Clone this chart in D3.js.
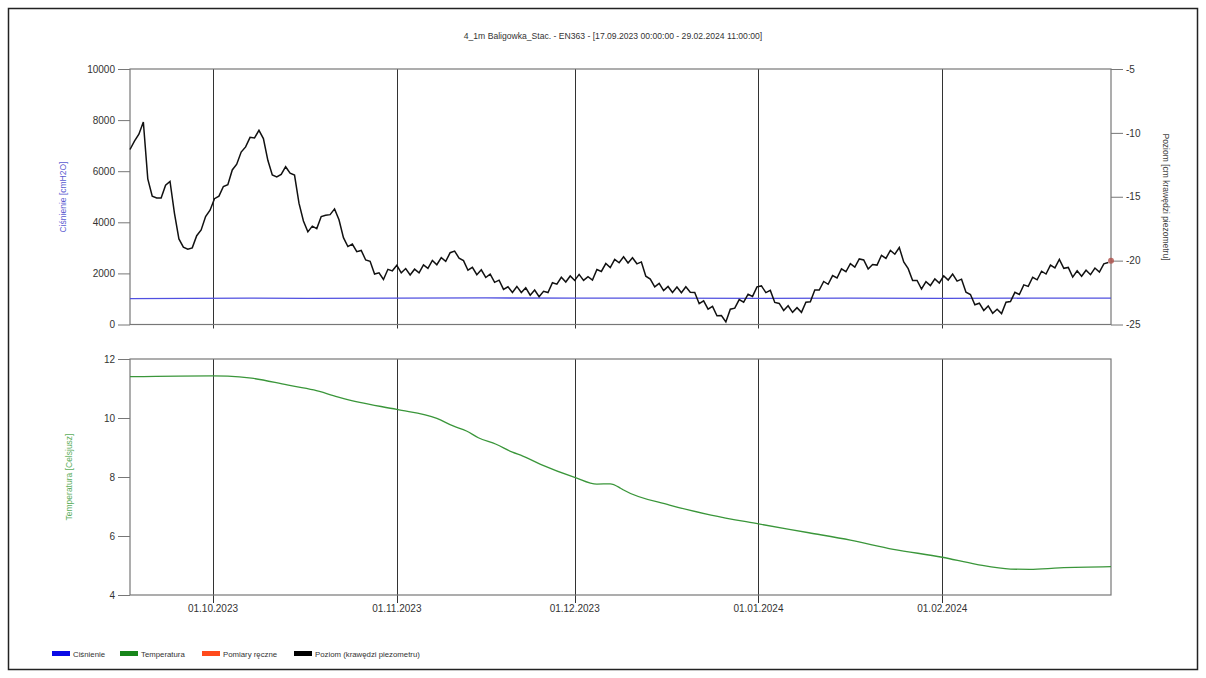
<!DOCTYPE html>
<html><head><meta charset="utf-8">
<script src="https://cdn.jsdelivr.net/npm/d3@7"></script>
<style>
html,body{margin:0;padding:0;background:#fff;}
svg{display:block;font-family:"Liberation Sans",Arial,sans-serif;}
</style></head>
<body><svg id="c" width="1206" height="678"></svg>
<script>
// ---------- DATA ----------
const titleText = "4_1m Baligowka_Stac. - EN363 -  [17.09.2023 00:00:00 - 29.02.2024 11:00:00]";
const timeStart = "2023-09-17 00:00";
const timeEnd = "2024-02-29 11:00";
const dateTickLabels = ["2023-10-01 00:00","2023-11-01 00:00","2023-12-01 00:00","2024-01-01 00:00","2024-02-01 00:00"];
const pressureTicks = [0,2000,4000,6000,8000,10000];
const levelTicks = [-5,-10,-15,-20,-25];
const tempTicks = [4,6,8,10,12];

// Poziom (krawędzi piezometru) [cm] - readings every 18 hours from 17.09.2023 00:00
const levelStepHours = 18;
const levelValues = [
-11.3,-10.65,-10.1,-9.15,-13.6,-14.95,-15.1,-15.1,-14.1,-13.8,
-16.3,-18.3,-18.95,-19.1,-19.0,-18.05,-17.6,-16.55,-16.05,-15.15,
-14.95,-14.2,-14.05,-12.9,-12.45,-11.5,-11.1,-10.35,-10.4,-9.8,
-10.45,-12.15,-13.3,-13.45,-13.25,-12.65,-13.15,-13.3,-15.5,-16.9,
-17.75,-17.3,-17.49,-16.55,-16.45,-16.4,-15.95,-16.8,-18.2,-18.9,
-18.7,-19.3,-19.2,-19.95,-20.05,-21.05,-20.95,-21.48,-20.68,-20.8,
-20.37,-20.95,-20.62,-21.12,-20.67,-20.95,-20.33,-20.6,-19.99,-20.32,
-19.77,-20.05,-19.38,-19.25,-19.8,-20.0,-20.75,-20.53,-21.1,-20.72,
-21.32,-21.05,-21.7,-21.53,-22.25,-22.05,-22.49,-22.02,-22.5,-22.13,
-22.7,-22.3,-22.82,-22.4,-22.5,-21.73,-21.84,-21.3,-21.67,-21.2,
-21.55,-21.08,-21.55,-21.25,-21.52,-20.7,-20.85,-20.23,-20.55,-19.9,
-20.17,-19.7,-20.18,-19.78,-20.25,-20.1,-21.22,-21.45,-22.05,-21.78,
-22.35,-22.02,-22.49,-22.07,-22.52,-22.05,-22.47,-22.5,-23.37,-23.15,
-23.8,-23.58,-24.32,-24.3,-24.8,-23.8,-23.72,-23.05,-23.25,-22.63,
-22.8,-22.05,-21.98,-22.5,-22.33,-23.27,-23.35,-23.9,-23.53,-24.05,
-23.68,-24.05,-23.25,-23.22,-22.3,-22.3,-21.63,-21.85,-21.17,-21.36,
-20.65,-20.87,-20.23,-20.5,-19.87,-19.95,-20.65,-20.3,-20.35,-19.58,
-19.82,-19.2,-19.5,-18.97,-20.1,-20.63,-21.55,-21.55,-22.22,-21.65,
-21.95,-21.43,-21.75,-21.2,-21.52,-21.05,-21.6,-21.45,-22.47,-22.65,
-23.45,-23.33,-23.9,-23.55,-24.12,-23.8,-24.15,-23.25,-23.2,-22.48,
-22.65,-21.9,-22.02,-21.3,-21.5,-20.83,-21.05,-20.35,-20.57,-19.9,
-20.6,-20.53,-21.29,-20.8,-21.22,-20.75,-21.1,-20.58,-20.9,-20.25,
-20.15
];

// Ciśnienie [cmH2O]
const pressureDates = ["2023-09-17 00:00","2023-09-27 00:00","2023-10-07 00:00","2023-10-17 00:00","2023-11-01 00:00","2023-11-16 00:00","2023-12-01 00:00","2023-12-16 00:00","2024-01-01 00:00","2024-01-16 00:00","2024-02-01 00:00","2024-02-16 00:00","2024-02-29 11:00"];
const pressureValues = [1010,1020,1030,1025,1030,1040,1030,1035,1020,1030,1020,1030,1030];

// Temperatura [Celsjusz]
const tempDates = ["2023-09-17 00:00","2023-10-01 00:00","2023-10-03 12:00","2023-10-07 12:00","2023-10-13 12:00","2023-10-18 00:00","2023-10-22 00:00","2023-10-25 18:00","2023-11-01 00:00","2023-11-07 18:00","2023-11-10 12:00","2023-11-12 18:00","2023-11-14 18:00","2023-11-17 18:00","2023-11-20 12:00","2023-11-22 06:00","2023-11-25 06:00","2023-12-01 00:00","2023-12-04 18:00","2023-12-07 00:00","2023-12-08 18:00","2023-12-09 06:00","2023-12-17 00:00","2023-12-24 00:00","2024-01-01 00:00","2024-01-09 12:00","2024-01-16 12:00","2024-01-23 18:00","2024-02-01 00:00","2024-02-06 18:00","2024-02-12 12:00","2024-02-15 18:00","2024-02-20 18:00","2024-02-29 11:00"];
const tempValues = [11.40,11.43,11.42,11.35,11.12,10.95,10.72,10.53,10.29,9.99,9.73,9.56,9.33,9.11,8.84,8.71,8.43,7.99,7.76,7.77,7.62,7.56,7.05,6.71,6.41,6.11,5.86,5.55,5.28,5.04,4.88,4.87,4.92,4.96];

// Pomiary ręczne
const manualDates = ["2024-02-29 11:00"];
const manualValues = [-20.0];

const legendLabels = ["Ciśnienie","Temperatura","Pomiary ręczne","Poziom (krawędzi piezometru)"];
const legendColors = ["#0a0ae6","#17861a","#ff4a1c","#000000"];

// ---------- CHART ----------
const parse = d3.timeParse("%Y-%m-%d %H:%M");
const svg = d3.select("#c");
const left = 130, right = 1111;
const top1 = 69, bot1 = 324.5, top2 = 359, bot2 = 595;

svg.append("rect").attr("x",8.5).attr("y",8.5).attr("width",1189).attr("height",661)
  .attr("fill","none").attr("stroke","#222").attr("stroke-width",1.5);

const x = d3.scaleTime().domain([parse(timeStart), parse(timeEnd)]).range([left, right]);
const yP = d3.scaleLinear().domain([0,10000]).range([bot1, top1]);
const yL = d3.scaleLinear().domain([-25,-5]).range([bot1, top1]);
const yT = d3.scaleLinear().domain([4,12]).range([bot2, top2]);

svg.append("text").attr("x",613).attr("y",39).attr("text-anchor","middle")
  .attr("font-size",8.6).attr("fill","#333").text(titleText);

const tickDates = dateTickLabels.map(parse);
const fmt = d3.timeFormat("%d.%m.%Y");
const intFmt = d => String(d);

function styleAxis(g){
  g.select(".domain").remove();
  g.selectAll(".tick line").attr("stroke","#777");
  g.selectAll(".tick text").attr("fill","#333").attr("font-size",10).attr("font-family","Liberation Sans, Arial, sans-serif");
}

// top panel
const g1 = svg.append("g");
g1.append("g").attr("transform",`translate(${left},0)`)
  .call(d3.axisLeft(yP).tickValues(pressureTicks).tickSize(12).tickPadding(3).tickFormat(intFmt)).call(styleAxis);
g1.append("g").attr("transform",`translate(${right},0)`)
  .call(d3.axisRight(yL).tickValues(levelTicks).tickSize(12).tickPadding(3).tickFormat(intFmt)).call(styleAxis);
// vertical grid
g1.selectAll("line.vg").data(tickDates).join("line").attr("class","vg")
  .attr("x1",d=>Math.round(x(d))+0.5).attr("x2",d=>Math.round(x(d))+0.5)
  .attr("y1",top1).attr("y2",bot1+4).attr("stroke","#333").attr("stroke-width",1);
g1.append("rect").attr("x",left).attr("y",top1).attr("width",right-left).attr("height",bot1-top1)
  .attr("fill","none").attr("stroke","#777").attr("stroke-width",1.2);

// pressure line
const pData = pressureDates.map((d,i)=>({t:parse(d),v:pressureValues[i]}));
g1.append("path").datum(pData).attr("fill","none").attr("stroke","#5050e0").attr("stroke-width",1.3)
  .attr("d", d3.line().x(d=>x(d.t)).y(d=>yP(d.v)));

// level line
const t0 = parse(timeStart).getTime();
const lData = levelValues.map((v,i)=>({t:new Date(t0 + i*levelStepHours*3600000), v}));
g1.append("path").datum(lData).attr("fill","none").attr("stroke","#111").attr("stroke-width",1.5)
  .attr("stroke-linejoin","miter")
  .attr("d", d3.line().x(d=>x(d.t)).y(d=>yL(d.v)));

// manual measurements
g1.selectAll("circle.m").data(manualDates.map((d,i)=>({t:parse(d),v:manualValues[i]}))).join("circle")
  .attr("class","m").attr("cx",d=>x(d.t)).attr("cy",d=>yL(d.v)).attr("r",3)
  .attr("fill","#b0504a").attr("opacity",0.8);

// axis titles top
svg.append("text").attr("transform",`translate(66,197) rotate(-90)`).attr("text-anchor","middle")
  .attr("font-size",8.5).attr("fill","#5a5ad0").text("Ciśnienie [cmH2O]");
svg.append("text").attr("transform",`translate(1163,197) rotate(90)`).attr("text-anchor","middle")
  .attr("font-size",8.5).attr("fill","#444").text("Poziom [cm krawędzi piezometru]");

// bottom panel
const g2 = svg.append("g");
g2.append("g").attr("transform",`translate(${left},0)`)
  .call(d3.axisLeft(yT).tickValues(tempTicks).tickSize(12).tickPadding(3).tickFormat(intFmt)).call(styleAxis);
g2.selectAll("line.vg").data(tickDates).join("line").attr("class","vg")
  .attr("x1",d=>Math.round(x(d))+0.5).attr("x2",d=>Math.round(x(d))+0.5)
  .attr("y1",top2).attr("y2",bot2+8).attr("stroke","#333").attr("stroke-width",1);
g2.append("rect").attr("x",left).attr("y",top2).attr("width",right-left).attr("height",bot2-top2)
  .attr("fill","none").attr("stroke","#777").attr("stroke-width",1.2);
g2.selectAll("text.dl").data(tickDates).join("text").attr("class","dl")
  .attr("x",d=>x(d)).attr("y",612).attr("text-anchor","middle")
  .attr("font-size",10).attr("fill","#333").text(d=>fmt(d));

const tData = tempDates.map((d,i)=>({t:parse(d),v:tempValues[i]}));
g2.append("path").datum(tData).attr("fill","none").attr("stroke","#3a963a").attr("stroke-width",1.3)
  .attr("d", d3.line().curve(d3.curveMonotoneX).x(d=>x(d.t)).y(d=>yT(d.v)));

svg.append("text").attr("transform",`translate(72,477) rotate(-90)`).attr("text-anchor","middle")
  .attr("font-size",8.5).attr("fill","#5cae5c").text("Temperatura [Celsjusz]");

// legend
const legX = [52,120,202,294];
const leg = svg.append("g");
legendLabels.forEach((lab,i)=>{
  leg.append("rect").attr("x",legX[i]).attr("y",651).attr("width",18).attr("height",5).attr("fill",legendColors[i]);
  leg.append("text").attr("x",legX[i]+21).attr("y",657).attr("font-size",7.8).attr("fill","#333").text(lab);
});
</script></body></html>
